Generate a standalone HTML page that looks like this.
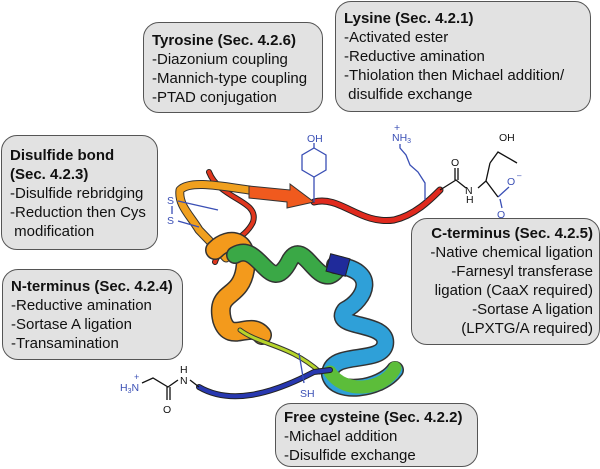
<!DOCTYPE html>
<html><head><meta charset="utf-8"><style>
body{margin:0;background:#fff;}
#c{position:relative;width:600px;height:469px;overflow:hidden;font-family:"Liberation Sans",Arial,sans-serif;}
.b{position:absolute;background:#e2e2e2;border:1.5px solid #555;border-radius:16px;box-sizing:border-box;font-size:15px;line-height:19px;color:#111;padding:6px 8px;white-space:nowrap;}
.b b{font-weight:bold;}
svg{position:absolute;left:0;top:0;}
</style></head><body><div id="c">
<svg width="600" height="469" viewBox="0 0 600 469">
<g fill="none" stroke-linecap="round" stroke-linejoin="round">
<path d="M314,202 C340,195 360,225 394,220 C415,215 430,200 440,190" stroke="#222" stroke-width="7"/>
<path d="M314,202 C340,195 360,225 394,220 C415,215 430,200 440,190" stroke="#e02a1e" stroke-width="5"/>
<path d="M209,172 C220,200 260,200 253,222 C245,240 220,245 215,262" stroke="#222" stroke-width="6"/>
<path d="M209,172 C220,200 260,200 253,222 C245,240 220,245 215,262" stroke="#e0361e" stroke-width="4"/>
<path d="M249,190 C220,186 190,180 180,190 C178,205 190,215 199,230 L226,258" stroke="#333" stroke-width="9"/>
<path d="M249,190 C220,186 190,180 180,190 C178,205 190,215 199,230 L226,258" stroke="#f0a01e" stroke-width="7"/>
<path d="M215,250 C230,235 250,240 245,270 C240,300 215,290 222,320 C230,345 250,320 262,335" stroke="#333" stroke-width="20"/>
<path d="M215,250 C230,235 250,240 245,270 C240,300 215,290 222,320 C230,345 250,320 262,335" stroke="#f39a1c" stroke-width="17"/>
<path d="M235,255 C260,240 270,300 290,260 C305,235 320,300 340,265" stroke="#333" stroke-width="18"/>
<path d="M235,255 C260,240 270,300 290,260 C305,235 320,300 340,265" stroke="#3aa846" stroke-width="15"/>
<path d="M335,265 C380,270 365,300 345,310 C330,330 390,320 385,345 C380,365 330,350 330,375 C335,395 380,390 395,370" stroke="#333" stroke-width="18"/>
<path d="M335,265 C380,270 365,300 345,310 C330,330 390,320 385,345 C380,365 330,350 330,375 C335,395 380,390 395,370" stroke="#2fa0d8" stroke-width="15"/>
<path d="M330,372 C345,395 385,390 395,368" stroke="#5cbd3a" stroke-width="13"/>
<path d="M240,330 C260,345 290,345 320,372" stroke="#333" stroke-width="5"/>
<path d="M240,330 C260,345 290,345 320,372" stroke="#b6d42a" stroke-width="3"/>
<path d="M199,387 C230,405 270,395 314,372 L330,370" stroke="#222" stroke-width="6"/>
<path d="M199,387 C230,405 270,395 314,372 L330,370" stroke="#2838b0" stroke-width="4"/>
</g>
<rect x="328" y="256" width="20" height="18" fill="#1f2a9a" stroke="#222" transform="rotate(15 338 265)"/>
<polygon points="249,186 290,190 290,184 314,202 287,208 287,202 249,198" fill="#f05a1e" stroke="#333"/>
<g stroke="#3a4fb5" stroke-width="1.3" fill="none">
<polygon points="314,148 326,155 326,170 314,177 302,170 302,155"/>
<line x1="314" y1="143" x2="314" y2="148"/><line x1="314" y1="177" x2="314" y2="202"/>
<polyline points="425,200 425,183 418,172 410,165 406,155 400,148 400,144"/>
<line x1="500" y1="199" x2="502" y2="208"/><line x1="498" y1="197" x2="509" y2="187"/>
<line x1="299" y1="353" x2="304" y2="383"/>
<line x1="178" y1="201" x2="218" y2="210"/><line x1="178" y1="221" x2="199" y2="227"/><line x1="172" y1="206" x2="172" y2="214"/>
</g>
<g stroke="#111" stroke-width="1.3" fill="none">
<polyline points="440,190 456,180 466,188"/><line x1="455" y1="180" x2="455" y2="168"/><line x1="458" y1="180" x2="458" y2="168"/>
<polyline points="478,188 486,181 498,197"/><line x1="486" y1="181" x2="490" y2="163"/><polyline points="490,163 498,152 517,163"/>
<polyline points="142,383 153,378 168,387 178,380"/><line x1="167" y1="387" x2="167" y2="400"/><line x1="170" y1="387" x2="170" y2="400"/><line x1="190" y1="380" x2="199" y2="387"/>
</g>
<g font-family="Liberation Sans,Arial,sans-serif" font-size="10.5" fill="#3a4fb5">
<text x="307" y="142">OH</text><text x="392" y="141">NH<tspan font-size="7" dy="2">3</tspan></text><text x="394" y="131">+</text>
<text x="167" y="204">S</text><text x="167" y="224">S</text><text x="300" y="397">SH</text>
<text x="497" y="218">O</text><text x="507" y="185">O</text><text x="517" y="178" font-size="8">–</text>
<text x="120" y="391">H<tspan font-size="7" dy="2">3</tspan><tspan dy="-2">N</tspan></text><text x="134" y="380" font-size="9">+</text>
</g>
<g font-family="Liberation Sans,Arial,sans-serif" font-size="10.5" fill="#111">
<text x="451" y="166">O</text><text x="465" y="194">N</text><text x="466" y="203">H</text><text x="499" y="141">OH</text>
<text x="163" y="413">O</text><text x="180" y="384">N</text><text x="180" y="373">H</text>
</g>
</svg>
<div class="b" style="left:143px;top:22px;width:180px;height:91px;padding-top:8px"><b>Tyrosine (Sec. 4.2.6)</b><br>-Diazonium coupling<br>-Mannich-type coupling<br>-PTAD conjugation</div>
<div class="b" style="left:335px;top:1px;width:256px;height:111px;padding-top:7px"><b>Lysine (Sec. 4.2.1)</b><br>-Activated ester<br>-Reductive amination<br>-Thiolation then Michael addition/<br>&nbsp;disulfide exchange</div>
<div class="b" style="left:1px;top:135px;width:157px;height:115px;padding-top:10px"><b>Disulfide bond<br>(Sec. 4.2.3)</b><br>-Disulfide rebridging<br>-Reduction then Cys<br>&nbsp;modification</div>
<div class="b" style="left:2px;top:269px;width:181px;height:91px;padding-top:7px"><b>N-terminus (Sec. 4.2.4)</b><br>-Reductive amination<br>-Sortase A ligation<br>-Transamination</div>
<div class="b" style="left:411px;top:218px;width:189px;height:127px;padding-top:5px;padding-right:6px;text-align:right"><b>C-terminus (Sec. 4.2.5)</b><br>-Native chemical ligation<br>-Farnesyl transferase<br>ligation (CaaX required)<br>-Sortase A ligation<br>(LPXTG/A required)</div>
<div class="b" style="left:275px;top:403px;width:203px;height:64px;padding-top:4px"><b>Free cysteine (Sec. 4.2.2)</b><br>-Michael addition<br>-Disulfide exchange</div>
</div></body></html>
